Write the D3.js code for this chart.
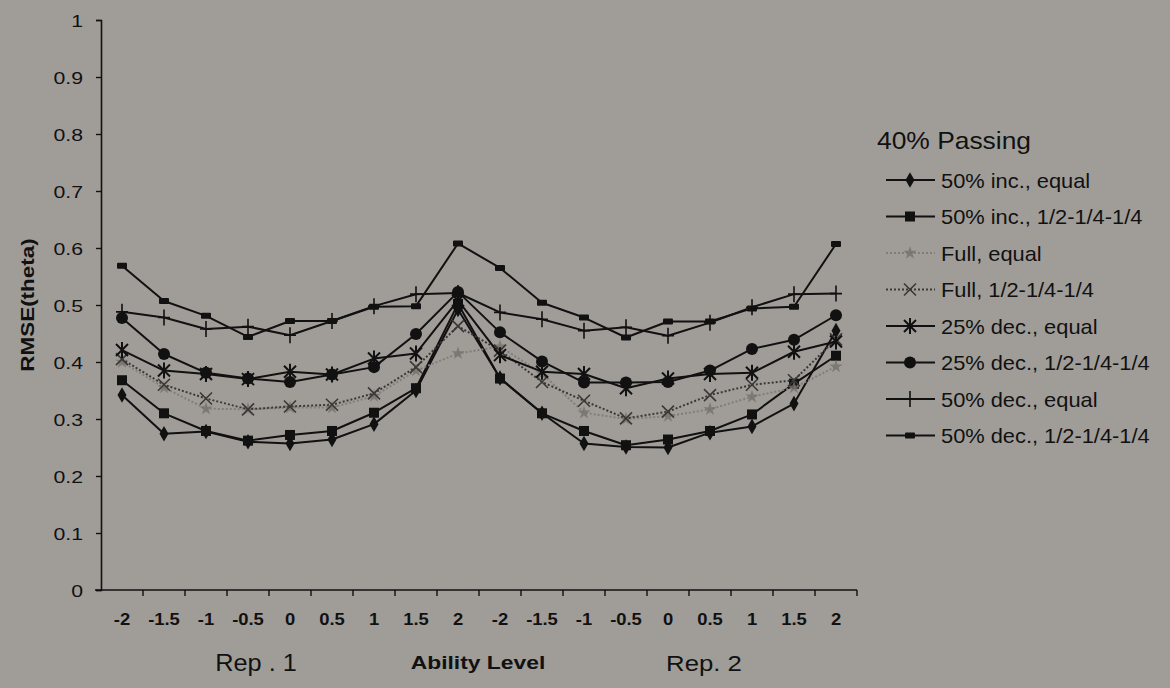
<!DOCTYPE html>
<html>
<head>
<meta charset="utf-8">
<script src="https://cdn.jsdelivr.net/npm/d3@7"></script>
<style>
  html, body { margin: 0; padding: 0; background: #a09d99; }
  svg { display: block; font-family: "Liberation Sans", Arial, sans-serif; }
</style>
</head>
<body>
<svg id="chart" width="1170" height="688"></svg>
<script>
// Ability levels shown under each replication block
const abilityLevels = ["-2", "-1.5", "-1", "-0.5", "0", "0.5", "1", "1.5", "2"];
const repLabels = ["Rep . 1", "Rep. 2"];
const yTickLabels = ["0", "0.1", "0.2", "0.3", "0.4", "0.5", "0.6", "0.7", "0.8", "0.9", "1"];

// RMSE(theta) per condition: Rep. 1 levels -2..2 followed by Rep. 2 levels -2..2
const inc50Equal   = [0.342, 0.274, 0.278, 0.260, 0.257, 0.264, 0.291, 0.350, 0.492,
                      0.372, 0.310, 0.257, 0.251, 0.250, 0.276, 0.287, 0.327, 0.455];
const inc50Half    = [0.368, 0.310, 0.279, 0.262, 0.272, 0.279, 0.311, 0.354, 0.502,
                      0.371, 0.310, 0.279, 0.254, 0.264, 0.279, 0.308, 0.362, 0.411];
const fullEqual    = [0.400, 0.355, 0.318, 0.317, 0.320, 0.320, 0.340, 0.385, 0.415,
                      0.427, 0.380, 0.311, 0.300, 0.305, 0.317, 0.339, 0.355, 0.392];
const fullHalf     = [0.405, 0.360, 0.336, 0.317, 0.322, 0.325, 0.345, 0.391, 0.463,
                      0.420, 0.365, 0.332, 0.301, 0.313, 0.342, 0.360, 0.368, 0.440];
const dec25Equal   = [0.421, 0.385, 0.379, 0.370, 0.383, 0.378, 0.406, 0.415, 0.508,
                      0.412, 0.383, 0.379, 0.354, 0.371, 0.379, 0.381, 0.418, 0.436];
const dec25Half    = [0.477, 0.414, 0.381, 0.371, 0.365, 0.378, 0.391, 0.449, 0.523,
                      0.452, 0.401, 0.364, 0.364, 0.365, 0.385, 0.423, 0.439, 0.482];
const dec50Equal   = [0.488, 0.478, 0.458, 0.462, 0.447, 0.472, 0.498, 0.519, 0.521,
                      0.487, 0.475, 0.455, 0.461, 0.446, 0.469, 0.496, 0.519, 0.520];
const dec50Half    = [0.569, 0.507, 0.481, 0.444, 0.472, 0.472, 0.497, 0.498, 0.608,
                      0.565, 0.504, 0.478, 0.443, 0.471, 0.471, 0.494, 0.497, 0.607];

const seriesNames = [
  "50% inc., equal", "50% inc., 1/2-1/4-1/4", "Full, equal", "Full, 1/2-1/4-1/4",
  "25% dec., equal", "25% dec., 1/2-1/4-1/4", "50% dec., equal", "50% dec., 1/2-1/4-1/4"
];
const seriesValues = [inc50Equal, inc50Half, fullEqual, fullHalf,
                      dec25Equal, dec25Half, dec50Equal, dec50Half];

// Visual style for each condition
const styles = [
  { marker: "diamond",  stroke: "#111", dash: null,  width: 2 },
  { marker: "square",   stroke: "#111", dash: null,  width: 2 },
  { marker: "star",     stroke: "#817d79", dash: "2,2", width: 2 },
  { marker: "cross",    stroke: "#3a3836", dash: "2,2", width: 2 },
  { marker: "asterisk", stroke: "#111", dash: null,  width: 2 },
  { marker: "circle",   stroke: "#111", dash: null,  width: 2 },
  { marker: "plus",     stroke: "#111", dash: null,  width: 2 },
  { marker: "dash",     stroke: "#111", dash: null,  width: 2 }
];

const categories = [];
repLabels.forEach((r, ri) => abilityLevels.forEach(a => categories.push(ri + ":" + a)));

const svg = d3.select("#chart");
const margin = { left: 101, top: 20, right: 857, bottom: 590 };

const x = d3.scaleBand().domain(categories).range([margin.left, margin.right]);
const y = d3.scaleLinear().domain([0, 1]).range([margin.bottom, margin.top]);
const cx = c => x(c) + x.bandwidth() / 2;

// Wide-set text: anchor point (tx, ty), horizontal stretch sx
function wideText(parent, tx, ty, sx, str) {
  return parent.append("text")
    .attr("transform", `translate(${tx},${ty}) scale(${sx},1)`)
    .attr("fill", "#111").text(str);
}

// Y axis
const yAxis = svg.append("g")
  .attr("transform", `translate(${margin.left},0)`)
  .call(d3.axisLeft(y).tickValues(yTickLabels.map(Number)).tickSize(5)
        .tickFormat((d, i) => yTickLabels[i]));
yAxis.select(".domain").attr("stroke", "#111").attr("stroke-width", 1.6);
yAxis.selectAll(".tick line").attr("stroke", "#111").attr("stroke-width", 1.4);
yAxis.selectAll(".tick text")
  .attr("x", null).attr("dy", null)
  .attr("transform", "translate(-18,6) scale(1.25,1)")
  .attr("font-size", 17).attr("fill", "#111");

// X axis
const xAxis = svg.append("g")
  .attr("transform", `translate(0,${margin.bottom})`)
  .call(d3.axisBottom(x).tickSize(0).tickFormat(c => c.split(":")[1]));
xAxis.select(".domain").remove();
xAxis.selectAll(".tick text")
  .attr("y", null).attr("dy", null)
  .attr("transform", "translate(0,35) scale(1.15,1)")
  .attr("font-size", 16).attr("font-weight", "bold").attr("fill", "#111");
svg.append("line").attr("x1", margin.left - 6).attr("x2", margin.right)
  .attr("y1", margin.bottom).attr("y2", margin.bottom)
  .attr("stroke", "#111").attr("stroke-width", 1.6);
// Category separators below the axis
svg.append("g").selectAll("line")
  .data(categories)
  .join("line")
  .attr("x1", c => x(c) + x.step())
  .attr("x2", c => x(c) + x.step())
  .attr("y1", margin.bottom).attr("y2", margin.bottom + 6)
  .attr("stroke", "#111").attr("stroke-width", 1.4);

// Axis titles
svg.append("text")
  .attr("transform", `translate(34,${(margin.top + margin.bottom) / 2}) rotate(-90) scale(1.25,1)`)
  .attr("text-anchor", "middle").attr("font-size", 18).attr("font-weight", "bold")
  .attr("fill", "#111").text("RMSE(theta)");

wideText(svg, cx("0:-0.5") + 8, 671, 1.1, repLabels[0])
  .attr("text-anchor", "middle").attr("font-size", 23);
wideText(svg, (cx("1:0") + cx("1:0.5")) / 2 + 15, 671, 1.12, repLabels[1])
  .attr("text-anchor", "middle").attr("font-size", 23);
wideText(svg, cx("0:2") + 20, 669, 1.27, "Ability Level")
  .attr("text-anchor", "middle").attr("font-size", 18).attr("font-weight", "bold");

// Marker painter
function drawMarker(g, type, color) {
  switch (type) {
    case "diamond":
      g.append("path").attr("d", d3.symbol(d3.symbolDiamond, 70)()).attr("fill", "#111");
      break;
    case "square":
      g.append("rect").attr("x", -5).attr("y", -5).attr("width", 10).attr("height", 10).attr("fill", "#111");
      break;
    case "star":
      g.append("path").attr("d", d3.symbol(d3.symbolStar, 55)()).attr("fill", "#74706c").attr("opacity", 0.8);
      break;
    case "cross":
      g.append("path").attr("d", "M-6,-6L6,6M-6,6L6,-6").attr("stroke", color).attr("stroke-width", 1.6).attr("fill", "none");
      break;
    case "asterisk":
      g.append("path").attr("d", "M-6,-6L6,6M-6,6L6,-6M0,-8L0,8").attr("stroke", "#111").attr("stroke-width", 2).attr("fill", "none");
      break;
    case "circle":
      g.append("circle").attr("r", 6).attr("fill", "#111");
      break;
    case "plus":
      g.append("path").attr("d", "M0,-8L0,8M-6,0L6,0").attr("stroke", "#111").attr("stroke-width", 1.6).attr("fill", "none");
      break;
    case "dash":
      g.append("rect").attr("x", -5).attr("y", -3).attr("width", 10).attr("height", 6).attr("rx", 1).attr("fill", "#111");
      break;
  }
}

// Lines and markers
const line = d3.line().x(d => cx(d.c)).y(d => y(d.v));
const plot = svg.append("g");
seriesValues.forEach((vals, si) => {
  const st = styles[si];
  const pts = vals.map((v, i) => ({ c: categories[i], v }));
  plot.append("path").datum(pts)
    .attr("d", line).attr("fill", "none")
    .attr("stroke", st.stroke).attr("stroke-width", st.width)
    .attr("stroke-dasharray", st.dash)
    .attr("stroke-linejoin", "round");
  plot.append("g").selectAll("g").data(pts).join("g")
    .attr("transform", d => `translate(${cx(d.c)},${y(d.v)})`)
    .each(function () { drawMarker(d3.select(this), st.marker, st.stroke); });
});

// Legend
const legend = svg.append("g");
wideText(legend, 877, 149, 1.1, "40% Passing").attr("font-size", 24);
seriesNames.forEach((name, i) => {
  const st = styles[i];
  const yy = 180 + i * 36.5;
  const row = legend.append("g").attr("transform", `translate(0,${yy})`);
  row.append("line").attr("x1", 886).attr("x2", 935).attr("y1", 0).attr("y2", 0)
    .attr("stroke", st.stroke).attr("stroke-width", st.width).attr("stroke-dasharray", st.dash);
  drawMarker(row.append("g").attr("transform", "translate(910,0)"), st.marker, st.stroke);
  wideText(row, 941, 7.5, 1.04, name).attr("font-size", 21);
});
</script>
</body>
</html>
